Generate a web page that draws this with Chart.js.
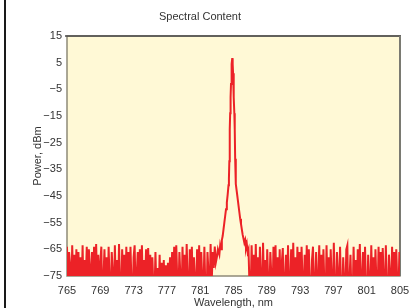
<!DOCTYPE html>
<html>
<head>
<meta charset="utf-8">
<script src="https://cdn.jsdelivr.net/npm/chart.js@4.4.1/dist/chart.umd.min.js"></script>
<style>
html,body{margin:0;padding:0;background:#fff;}
#wrap{position:relative;width:419px;height:308px;}
</style>
</head>
<body>
<div id="wrap"><canvas id="c" width="419" height="308"></canvas></div>
<script>
// Tick labels
const xTicks = [765, 769, 773, 777, 781, 785, 789, 793, 797, 801, 805];
const yTicks = [15, 5, -5, -15, -25, -35, -45, -55, -65, -75];

// Noise floor left of the line (starts 765 nm, 0.125 nm per sample)
const leftStart = 765, leftStep = 0.125;
const leftNoise = [
 -64,-82,-66,-71,-85,-63.5,-78,-67,-88,-65,
 -79,-66,-84,-68,-80,-63.5,-86,-69,-77,-64,
 -87,-65,-72,-83,-66,-81,-64,-85,-63,-79,
 -67,-84,-70,-64,-88,-76,-65,-82,-68,-86,
 -64,-78,-85,-66,-74,-87,-63.5,-80,-69,-84,
 -63,-79,-86,-65,-77,-67,-88,-64,-81,-66,
 -85,-64,-78,-86,-68,-63.5,-83,-75,-66,-88,
 -65,-80,-63.5,-84,-69,-78,-65,-87,-64.5,-81,
 -67,-85,-68,-79,-84,-66,-82,-72,-86,-67,
 -81,-70,-85,-69,-83,-71,-88,-70,-82,-68,
 -84,-66,-79,-64,-86,-63.5,-77,-84,-66,-75,
 -87,-64,-80,-67,-85,-63,-78,-86,-65,-81,
 -64,-84,-68,-76,-88,-65,-82,-63.5,-85,-66,
 -77,-84,-64,-80,-87,-66,-74,-83,-63,-78,
 -66,-72,-64,-70,-68,-65
];

// Laser line (wavelength nm, power dBm)
const peakWl = [783.3,783.4,783.5,783.6,783.7,783.8,783.9,784.0,784.1,784.2,784.3,784.4,784.45,784.5,784.55,784.6,784.65,784.7,784.75,784.8,784.85,784.9,784.95,785.0,785.05,785.1,785.15,785.2,785.25,785.3,785.4,785.5,785.6,785.7,785.8,785.9,786.0,786.1,786.2,786.3,786.4,786.5,786.6,786.7];
const peakPw = [-67,-63.5,-65,-61.5,-60,-57.5,-55,-52.5,-50,-47.5,-44.5,-41,-38.5,-32,-20,-14,-8,-3,1,4.5,6.7,4.5,1,-3,-8,-14,-20,-31,-38.5,-40.5,-43.5,-46,-48.5,-51,-53.5,-55.5,-57.5,-59.5,-61,-62.5,-61.5,-64.5,-63,-66];

// Noise floor right of the line (starts 786.8 nm, 0.125 nm per sample)
const rightStart = 786.8, rightStep = 0.125;
const rightNoise = [
 -65,-79,-84,-63.5,-77,-67,-87,-63,-80,-68,
 -85,-64,-76,-86,-62.5,-81,-69,-88,-65,-78,
 -84,-66,-75,-86,-64,-80,-63.5,-87,-68,-82,
 -65,-85,-70,-64.5,-88,-77,-67,-83,-63.5,-86,
 -78,-65,-84,-62.5,-81,-68,-87,-64,-79,-66,
 -86,-64,-77,-84,-67,-82,-63.5,-88,-65,-80,
 -85,-69,-64,-86,-78,-66,-87,-76,-63.5,-83,
 -67,-84,-65,-79,-88,-63.5,-81,-68,-86,-65,
 -77,-85,-62.5,-80,-87,-66,-75,-83,-64,-81,
 -86,-68,-78,-84,-65,-63.5,-88,-77,-67,-82,
 -85,-64,-80,-69,-87,-65,-78,-63,-86,-76,
 -66,-84,-64,-81,-88,-67,-77,-85,-63.5,-80,
 -68,-87,-65,-78,-84,-64,-82,-66,-86,-64.5,
 -77,-85,-63.5,-80,-88,-67,-75,-83,-64,-81,
 -66,-86,-65,-78,-84,-66
];

const points = [];
leftNoise.forEach((v, i) => points.push({x: leftStart + i * leftStep, y: v}));
peakWl.forEach((w, i) => points.push({x: w, y: peakPw[i]}));
rightNoise.forEach((v, i) => points.push({x: rightStart + i * rightStep, y: v}));

const FONT = "'Liberation Sans', Arial, sans-serif";
const TXT = '#333333';

const framePlugin = {
  id: 'frame',
  beforeDraw(chart) {
    const ctx = chart.ctx;
    ctx.save();
    ctx.fillStyle = '#ffffff';
    ctx.fillRect(0, 0, chart.width, chart.height);
    ctx.fillStyle = '#1a1a1a';
    ctx.fillRect(4, 0, 2, chart.height);
    ctx.restore();
  },
  beforeDatasetsDraw(chart) {
    const {ctx, chartArea: a} = chart;
    ctx.save();
    ctx.fillStyle = '#fff9d6';
    ctx.fillRect(a.left, a.top, a.right - a.left, a.bottom - a.top);
    ctx.lineWidth = 1.5;
    ctx.strokeStyle = '#8f8a78';
    ctx.strokeRect(a.left, a.top, a.right - a.left, a.bottom - a.top);
    ctx.strokeStyle = '#4a4a4a';
    ctx.beginPath();
    ctx.moveTo(a.left - 2, a.top);
    ctx.lineTo(a.right + 1, a.top);
    ctx.stroke();
    ctx.strokeStyle = '#7a7a72';
    ctx.lineWidth = 2;
    ctx.beginPath();
    ctx.moveTo(a.right, a.top);
    ctx.lineTo(a.right, a.bottom);
    ctx.stroke();
    ctx.restore();
  }
};

new Chart(document.getElementById('c'), {
  type: 'line',
  data: {
    datasets: [{
      data: points,
      borderColor: '#ec2227',
      borderWidth: 2,
      pointRadius: 0,
      tension: 0,
      fill: false
    }]
  },
  plugins: [framePlugin],
  options: {
    responsive: false,
    animation: false,
    events: [],
    layout: {padding: {left: 0, right: 19, top: 0, bottom: 0}},
    plugins: {
      legend: {display: false},
      tooltip: {enabled: false},
      title: {
        display: true,
        text: 'Spectral Content',
        color: TXT,
        font: {family: FONT, size: 11, weight: 'normal'},
        padding: {top: 10, bottom: 12.8}
      }
    },
    scales: {
      x: {
        type: 'linear',
        min: 765, max: 805,
        afterBuildTicks(scale) { scale.ticks = xTicks.map(v => ({value: v})); },
        afterFit(scale) { scale.height = 32; },
        grid: {display: false, drawTicks: false},
        border: {display: false},
        ticks: {color: TXT, font: {family: FONT, size: 11}, padding: 8, maxRotation: 0, autoSkip: false},
        title: {display: true, text: 'Wavelength, nm', color: TXT, font: {family: FONT, size: 11}, padding: {top: 0, bottom: -2}}
      },
      y: {
        type: 'linear',
        min: -75, max: 15,
        afterBuildTicks(scale) { scale.ticks = yTicks.map(v => ({value: v})); },
        afterFit(scale) { scale.width = 67; },
        grid: {display: false, drawTicks: false},
        border: {display: false},
        ticks: {color: TXT, font: {family: FONT, size: 11}, padding: 5,
          callback: v => String(v).replace('-', '\u2212')},
        title: {display: true, text: 'Power, dBm', color: TXT, font: {family: FONT, size: 11}, padding: {top: 31, bottom: 0}}
      }
    }
  }
});
</script>
</body>
</html>
